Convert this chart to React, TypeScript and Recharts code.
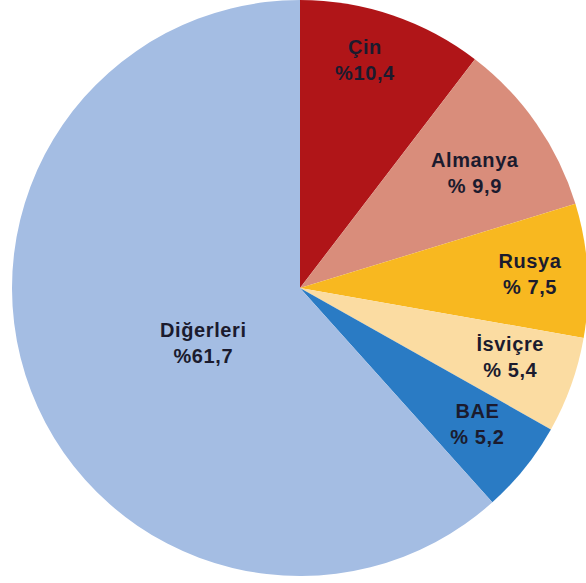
import { Cell, Pie, PieChart } from "recharts";

const countries = ["Çin", "Almanya", "Rusya", "İsviçre", "BAE", "Diğerleri"];
const shares = [10.4, 9.9, 7.5, 5.4, 5.2, 61.7];
const shareLabels = ["%10,4", "% 9,9", "% 7,5", "% 5,4", "% 5,2", "%61,7"];
const colors = ["#B01518", "#D98D7B", "#F8B820", "#FBDCA2", "#2A7BC4", "#A4BDE3"];

const data = countries.map((name, i) => ({ name, value: shares[i] }));

// label block placement: fraction of radius, and small angle nudge (deg)
const labelRadius = [0.823, 0.727, 0.8, 0.768, 0.777, 0.387];
const labelShift = [2.8, -1.4, 0, 1.6, 1.2, 8.9];

const RAD = Math.PI / 180;

const renderLabel = (props: any) => {
  const { cx, cy, midAngle, outerRadius, index } = props;
  const r = outerRadius * labelRadius[index];
  const a = (midAngle + labelShift[index]) * RAD;
  const x = cx + r * Math.cos(-a);
  const y = cy + r * Math.sin(-a);
  return (
    <text
      x={x}
      y={y}
      textAnchor="middle"
      fill="#1b1b2e"
      fontFamily="'Liberation Sans', Arial, sans-serif"
      fontWeight="bold"
      fontSize={20}
      letterSpacing={0.6}
    >
      <tspan x={x} dy={-6}>
        {countries[index]}
      </tspan>
      <tspan x={x} dy={26}>
        {shareLabels[index]}
      </tspan>
    </text>
  );
};

export default function App() {
  return (
    <div style={{ position: "absolute", left: 0, top: 0, width: 586, height: 583, background: "#fff" }}>
      <PieChart width={586} height={583} margin={{ top: 0, right: 0, bottom: 0, left: 0 }}>
        <Pie
          data={data}
          dataKey="value"
          cx={300}
          cy={288}
          outerRadius={288}
          startAngle={90}
          endAngle={-270}
          stroke="none"
          label={renderLabel}
          labelLine={false}
          isAnimationActive={false}
        >
          {data.map((d, i) => (
            <Cell key={d.name} fill={colors[i]} />
          ))}
        </Pie>
      </PieChart>
    </div>
  );
}
